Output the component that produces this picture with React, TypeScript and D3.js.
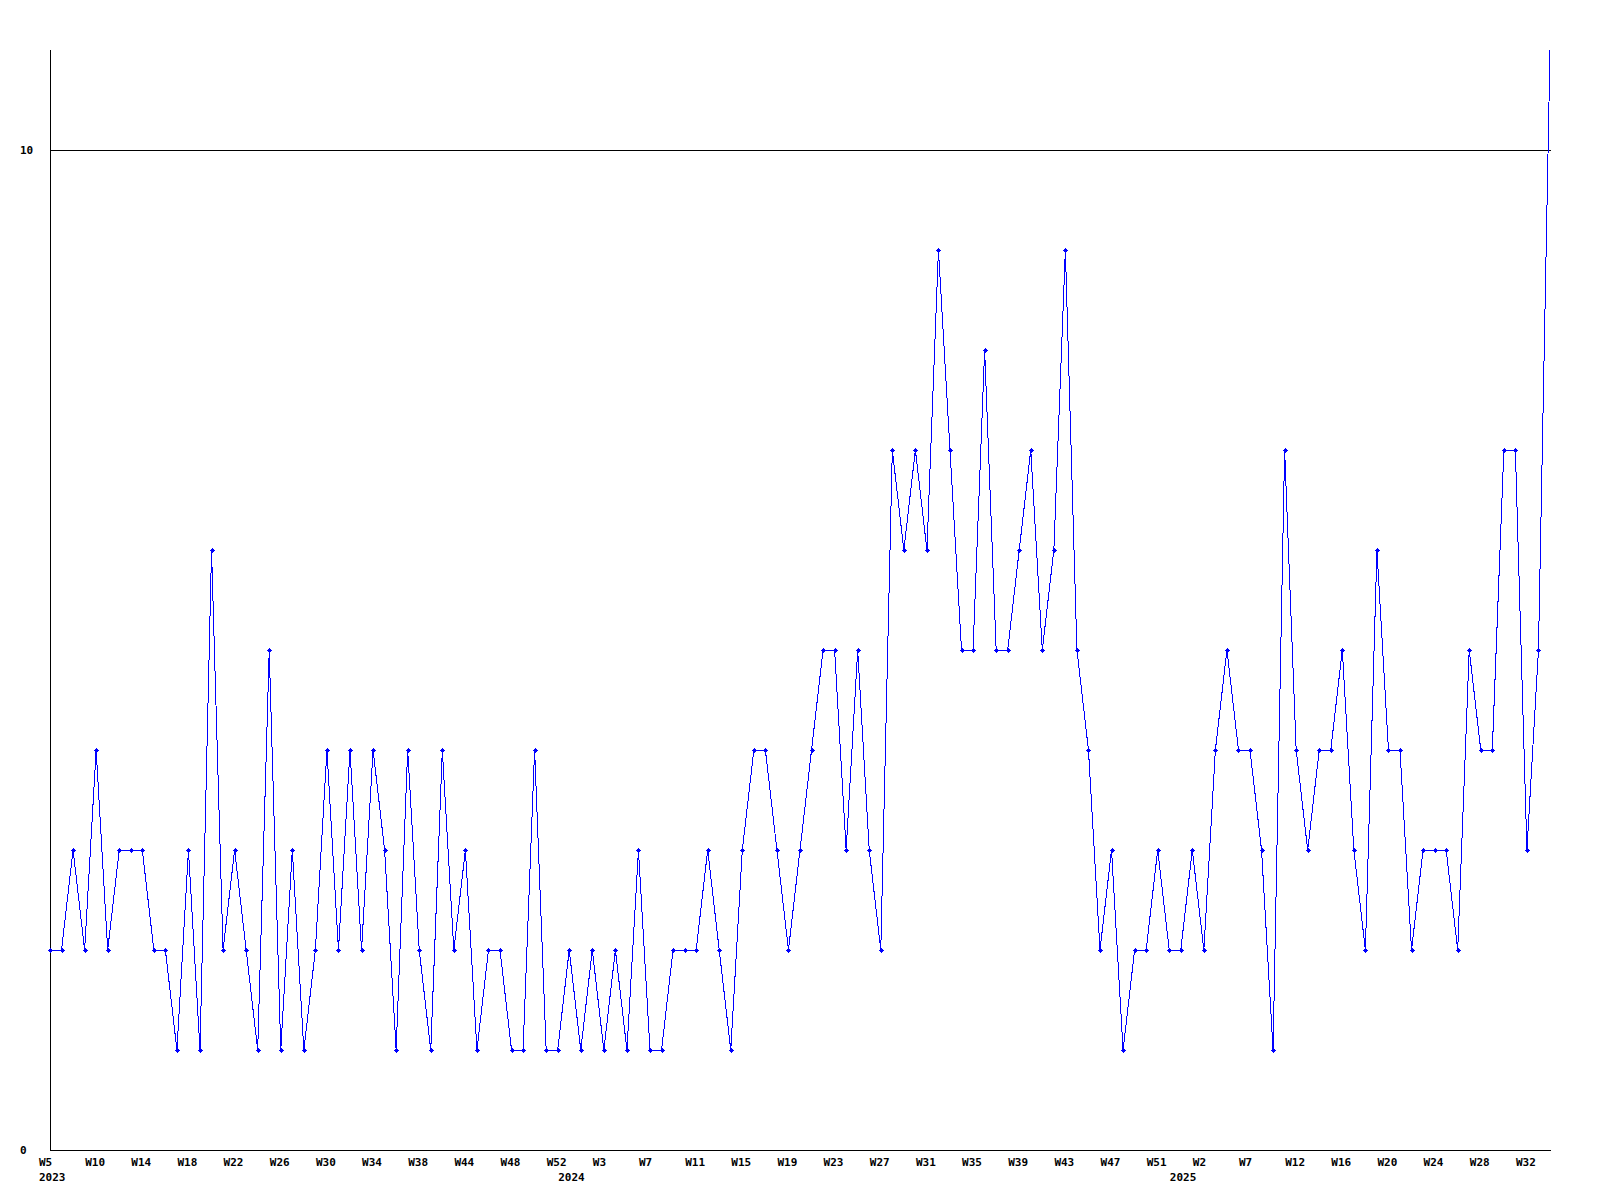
import React from "react";
import * as d3 from "d3";

// Weekly values, 2023 W5 .. 2025 W34 (131 points)
const values: number[] = [
  2, 2, 3, 2, 4, 2, 3, 3, 3, 2,
  2, 1, 3, 1, 6, 2, 3, 2, 1, 5,
  1, 3, 1, 2, 4, 2, 4, 2, 4, 3,
  1, 4, 2, 1, 4, 2, 3, 1, 2, 2,
  1, 1, 4, 1, 1, 2, 1, 2, 1, 2,
  1, 3, 1, 1, 2, 2, 2, 3, 2, 1,
  3, 4, 4, 3, 2, 3, 4, 5, 5, 3,
  5, 3, 2, 7, 6, 7, 6, 9, 7, 5,
  5, 8, 5, 5, 6, 7, 5, 6, 9, 5,
  4, 2, 3, 1, 2, 2, 3, 2, 2, 3,
  2, 4, 5, 4, 4, 3, 1, 7, 4, 3,
  4, 4, 5, 3, 2, 6, 4, 4, 2, 3,
  3, 3, 2, 5, 4, 4, 7, 7, 3, 5,
  11,
];

// x tick labels, one every 4 points
const weekLabels: string[] = [
  "W5", "W10", "W14", "W18", "W22", "W26", "W30", "W34", "W38", "W44", "W48", "W52",
  "W3", "W7", "W11", "W15", "W19", "W23", "W27", "W31", "W35", "W39", "W43", "W47", "W51",
  "W2", "W7", "W12", "W16", "W20", "W24", "W28", "W32",
];
const weekLabelStep = 4;

const yearLabels: string[] = ["2023", "2024", "2025"];
const yearIndex: number[] = [0, 45, 98];

const yTicks: number[] = [0, 10];
const gridValues: number[] = [10];

const W = 1600;
const H = 1200;
const left = 50;
const right = 1550;
const top = 50;
const bottom = 1150;

export default function App() {
  const x = d3.scaleLinear().domain([0, values.length - 1]).range([left, right]);
  const y = d3.scaleLinear().domain([0, 11]).range([bottom, top]);

  const line = d3
    .line<number>()
    .x((_, i) => x(i))
    .y((d) => y(d));

  const font = "'DejaVu Sans Mono', monospace";

  return (
    <svg
      width={W}
      height={H}
      style={{ position: "absolute", left: 0, top: 0, background: "#fff" }}
    >
      <rect x={0} y={0} width={W} height={H} fill="#fff" />
      {/* grid line */}
      {gridValues.map((g) => (
        <line
          key={g}
          x1={left}
          x2={right + 1}
          y1={Math.round(y(g)) + 0.5}
          y2={Math.round(y(g)) + 0.5}
          stroke="#000"
          strokeWidth={1}
          shapeRendering="crispEdges"
        />
      ))}
      {/* axes */}
      <line
        x1={left + 0.5}
        x2={left + 0.5}
        y1={top}
        y2={bottom + 1}
        stroke="#000"
        strokeWidth={1}
        shapeRendering="crispEdges"
      />
      <line
        x1={left}
        x2={right + 1}
        y1={bottom + 0.5}
        y2={bottom + 0.5}
        stroke="#000"
        strokeWidth={1}
        shapeRendering="crispEdges"
      />
      {/* y labels */}
      {yTicks.map((t) => (
        <text
          key={t}
          x={20}
          y={y(t)}
          dy="0.36em"
          fontFamily={font}
          fontWeight="bold"
          fontSize={11}
          fill="#000"
        >
          {t}
        </text>
      ))}
      {/* x labels */}
      {weekLabels.map((l, i) => (
        <text
          key={i}
          x={x(i * weekLabelStep) - 11}
          y={1166}
          fontFamily={font}
          fontWeight="bold"
          fontSize={11}
          fill="#000"
        >
          {l}
        </text>
      ))}
      {yearLabels.map((l, i) => (
        <text
          key={l}
          x={x(yearIndex[i]) - 11}
          y={1181}
          fontFamily={font}
          fontWeight="bold"
          fontSize={11}
          fill="#000"
        >
          {l}
        </text>
      ))}
      {/* data line */}
      <path
        d={line(values) || ""}
        fill="none"
        stroke="#0000ff"
        strokeWidth={1}
        shapeRendering="crispEdges"
      />
      {/* markers */}
      {values.map((v, i) =>
        i === values.length - 1 ? null : (
          <g key={i} fill="#0000ff" shapeRendering="crispEdges">
            <rect x={Math.round(x(i)) - 2} y={Math.round(y(v))} width={5} height={1} />
            <rect x={Math.round(x(i))} y={Math.round(y(v)) - 2} width={1} height={5} />
            <rect x={Math.round(x(i)) - 1} y={Math.round(y(v)) - 1} width={3} height={3} />
          </g>
        )
      )}
    </svg>
  );
}
